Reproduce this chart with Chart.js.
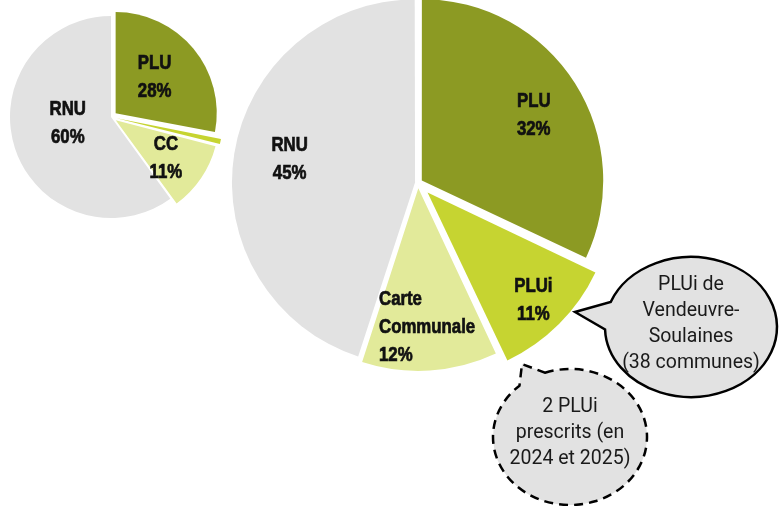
<!DOCTYPE html>
<html>
<head>
<meta charset="utf-8">
<script src="https://cdn.jsdelivr.net/npm/chart.js@4/dist/chart.umd.min.js"></script>
<style>
	body { margin: 0; background: #fff; }
	#wrap { position: relative; width: 780px; height: 506px; overflow: hidden; }
	#wrap canvas { position: absolute; left: 0; top: 0; }
</style>
</head>
<body>
<div id="wrap">
	<canvas id="smallPie" width="780" height="506"></canvas>
	<canvas id="bigPie" width="780" height="506"></canvas>
</div>
<script>
// petit camembert (gauche)
var smallLabels = ['PLU', 'PLUi', 'CC', 'RNU'];
var smallValues = [28, 1, 11, 60];
// grand camembert
var bigLabels = ['PLU', 'PLUi', ['Carte', 'Communale'], 'RNU'];
var bigValues = [32, 11, 12, 45];
// bulles
var bubbleSolid = ['PLUi de', 'Vendeuvre-', 'Soulaines', '(38 communes)'];
var bubbleDashed = ['2 PLUi', 'prescrits (en', '2024 et 2025)'];

var colors = ['#8c9a23', '#c6d431', '#e2ea9a', '#e2e2e2'];

// chart.js v4 draws offset/4 * (2 - sin(circ)) -> what we actually see
function realOffset(arc) {
	var o = (arc.options.offset || 0) / 4;
	var c = arc.endAngle - arc.startAngle;
	return o * (2 - Math.sin(Math.min(Math.PI, c)));
}

var SX = 0.84; // squeeze the bold font, looks condensed like the original

var sliceLabels = {
	id: 'sliceLabels',
	afterDatasetsDraw: function (chart, args, opts) {
		var ctx = chart.ctx;
		var meta = chart.getDatasetMeta(0);
		var data = chart.data.datasets[0].data;
		ctx.save();
		ctx.font = 'bold 20px "Liberation Sans", Arial, sans-serif';
		ctx.fillStyle = '#111';
		ctx.strokeStyle = '#111';
		ctx.lineWidth = 0.7;
		ctx.textBaseline = 'middle';
		meta.data.forEach(function (arc, i) {
			if (data[i] < 5) return;
			var mid = (arc.startAngle + arc.endAngle) / 2;
			var r = opts.fractions[i] * arc.outerRadius + realOffset(arc);
			var x = arc.x + Math.cos(mid) * r;
			var y = arc.y + Math.sin(mid) * r + (opts.dy ? opts.dy[i] : 0);
			var name = chart.data.labels[i];
			var lines = (Array.isArray(name) ? name : [name]).concat([data[i] + '%']);
			var top = y - (lines.length - 1) * 28 / 2;
			var w = 0;
			lines.forEach(function (t) { w = Math.max(w, ctx.measureText(t).width * SX); });
			lines.forEach(function (t, k) {
				ctx.save();
				var lx = opts.left && opts.left[i] ? x - w / 2 : x - ctx.measureText(t).width * SX / 2;
				ctx.translate(lx, top + k * 28);
				ctx.scale(SX, 1);
				ctx.fillText(t, 0, 0);
				ctx.strokeText(t, 0, 0);
				ctx.restore();
			});
		});
		ctx.restore();
	}
};

function bubble(ctx, cx, cy, rx, ry, a0, a1, tip, dashed, lines, ty) {
	ctx.save();
	ctx.beginPath();
	ctx.ellipse(cx, cy, rx, ry, 0, a0 * Math.PI / 180, a1 * Math.PI / 180);
	ctx.lineTo(tip[0], tip[1]);
	ctx.closePath();
	ctx.fillStyle = '#e2e2e2';
	ctx.fill();
	ctx.lineWidth = 2.5;
	ctx.strokeStyle = '#000';
	if (dashed) ctx.setLineDash([9, 6]);
	ctx.stroke();
	ctx.setLineDash([]);
	ctx.fillStyle = '#1a1a1a';
	ctx.font = '19.5px Roboto, sans-serif';
	ctx.textAlign = 'center';
	ctx.textBaseline = 'middle';
	lines.forEach(function (t, k) { ctx.fillText(t, cx, ty + k * 26); });
	ctx.restore();
}

var callouts = {
	id: 'callouts',
	afterDraw: function (chart) {
		var ctx = chart.ctx;
		bubble(ctx, 691, 327, 86, 70, 201, 538, [575, 312], false, bubbleSolid, 285);
		bubble(ctx, 570, 437, 77, 68, 251, 589, [522, 364], true, bubbleDashed, 407);
	}
};

new Chart(document.getElementById('smallPie').getContext('2d'), {
	type: 'pie',
	data: {
		labels: smallLabels,
		datasets: [{
			data: smallValues,
			backgroundColor: colors,
			borderWidth: 0,
			offset: [24, 23, 23, 0],
			clip: false
		}]
	},
	options: {
		responsive: false,
		animation: false,
		radius: 101,
		layout: { padding: { left: 0, right: 558, top: 0, bottom: 272 } },
		plugins: {
			legend: { display: false },
			tooltip: { enabled: false },
			sliceLabels: { fractions: [0.5, 0.6, 0.58, 0.45], dy: [-3, 0, 4, -8] }
		}
	},
	plugins: [sliceLabels]
});

new Chart(document.getElementById('bigPie').getContext('2d'), {
	type: 'pie',
	data: {
		labels: bigLabels,
		datasets: [{
			data: bigValues,
			backgroundColor: colors,
			borderWidth: 0,
			offset: [18, 54, 21, 12],
			clip: false
		}]
	},
	options: {
		responsive: false,
		animation: false,
		radius: 181,
		layout: { padding: { left: 56, right: 0, top: 0, bottom: 140 } },
		plugins: {
			legend: { display: false },
			tooltip: { enabled: false },
			sliceLabels: { fractions: [0.73, 0.8, 0.76, 0.69], left: [false, false, true, false], dy: [6, 2, 0, -3] }
		}
	},
	plugins: [sliceLabels, callouts]
});
</script>
</body>
</html>
